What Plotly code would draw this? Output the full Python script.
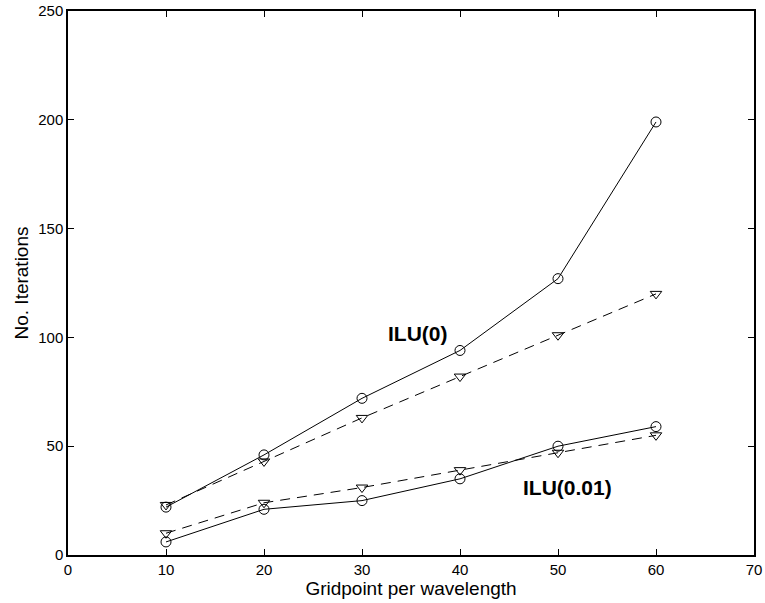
import plotly.graph_objects as go

x = [10, 20, 30, 40, 50, 60]
ilu0_solid = [22, 46, 72, 94, 127, 199]
ilu0_dashed = [23, 43, 63, 82, 101, 120]
ilu001_solid = [6, 21, 25, 35, 50, 59]
ilu001_dashed = [10, 24, 31, 39, 47, 55]

fig = go.Figure()
def add(y, dash, sym):
    fig.add_trace(go.Scatter(x=x, y=y, mode="lines+markers",
                             line=dict(color="black", width=1, dash=dash),
                             marker=dict(symbol=sym, size=10, color="black",
                                         line=dict(color="black", width=1)),
                             showlegend=False))
add(ilu0_solid, "solid", "circle-open")
add(ilu0_dashed, "10px,7px", "triangle-down-open")
add(ilu001_solid, "solid", "circle-open")
add(ilu001_dashed, "10px,7px", "triangle-down-open")

fig.add_annotation(x=35.7, y=102, text="<b>ILU(0)</b>", showarrow=False,
                   font=dict(family="Liberation Sans, Arial", size=21, color="black"))
fig.add_annotation(x=51.0, y=31, text="<b>ILU(0.01)</b>", showarrow=False,
                   font=dict(family="Liberation Sans, Arial", size=21, color="black"))

axis_common = dict(showgrid=False, zeroline=False, showline=True, linecolor="black",
                   linewidth=1.5, mirror="ticks", ticks="inside", ticklen=6,
                   tickcolor="black", tickfont=dict(size=15, color="black"))
fig.update_xaxes(range=[0, 70], tickvals=[0, 10, 20, 30, 40, 50, 60, 70],
                 title=dict(text="Gridpoint per wavelength", font=dict(size=19, color="black"),
                            standoff=3), **axis_common)
fig.update_yaxes(range=[0, 250], tickvals=[0, 50, 100, 150, 200, 250],
                 title=dict(text="No. Iterations", font=dict(size=19, color="black"),
                            standoff=5), **axis_common)
fig.update_layout(width=765, height=603, plot_bgcolor="white", paper_bgcolor="white",
                  margin=dict(l=68, r=11, t=11, b=48, autoexpand=False),
                  font=dict(family="Liberation Sans, Arial", color="black"))
fig.write_html("out.html")
